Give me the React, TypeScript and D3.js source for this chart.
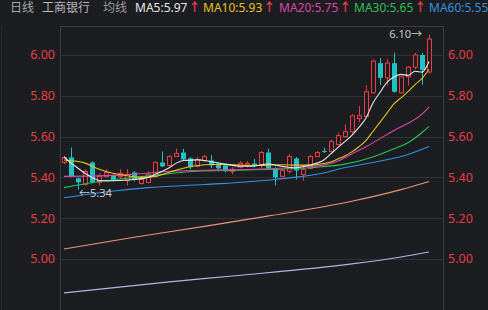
import React from 'react';
import * as d3 from 'd3';

// ---- data ----
const opens = [5.473,5.498,5.395,5.366,5.473,5.376,5.405,5.41,5.405,5.385,5.424,5.37,5.375,5.405,5.473,5.458,5.502,5.522,5.493,5.454,5.483,5.483,5.468,5.459,5.429,5.45,5.46,5.468,5.463,5.522,5.444,5.405,5.43,5.493,5.415,5.444,5.502,5.53,5.527,5.561,5.60,5.624,5.688,5.698,5.815,5.96,5.888,5.96,5.815,5.893,5.94,6.0,5.917];
const closes = [5.498,5.405,5.376,5.429,5.376,5.405,5.424,5.385,5.42,5.415,5.39,5.39,5.415,5.473,5.454,5.502,5.517,5.488,5.45,5.488,5.502,5.459,5.444,5.43,5.44,5.47,5.468,5.459,5.522,5.444,5.40,5.434,5.502,5.434,5.439,5.502,5.522,5.525,5.576,5.605,5.624,5.702,5.702,5.82,5.97,5.888,5.96,5.82,5.893,5.94,6.0,5.927,6.078];
const highs = [5.505,5.546,5.40,5.44,5.48,5.42,5.44,5.415,5.44,5.44,5.43,5.40,5.43,5.48,5.527,5.51,5.54,5.54,5.50,5.50,5.51,5.51,5.47,5.46,5.45,5.48,5.48,5.49,5.53,5.54,5.45,5.44,5.515,5.50,5.46,5.51,5.53,5.545,5.585,5.62,5.66,5.71,5.75,5.85,5.98,5.985,5.98,6.01,5.90,5.945,6.01,6.01,6.10];
const lows = [5.465,5.40,5.34,5.36,5.37,5.36,5.40,5.38,5.39,5.36,5.38,5.365,5.37,5.40,5.45,5.45,5.50,5.485,5.44,5.45,5.478,5.445,5.43,5.425,5.415,5.445,5.45,5.45,5.445,5.44,5.36,5.40,5.42,5.39,5.385,5.44,5.50,5.52,5.52,5.555,5.595,5.615,5.67,5.695,5.81,5.854,5.85,5.815,5.81,5.85,5.93,5.854,5.91];

const yTicks = [5.0, 5.2, 5.4, 5.6, 5.8, 6.0];

// moving-average lines: [candle index, value]
const ma5: [number, number][] = [[0,5.50],[1,5.47],[2,5.445],[3,5.42],[4,5.40],[5,5.385],[6,5.383],[8,5.385],[10,5.39],[12,5.40],[13,5.415],[14,5.43],[15,5.447],[16,5.47],[17,5.483],[19,5.486],[21,5.477],[23,5.465],[25,5.455],[27,5.455],[29,5.466],[31,5.455],[33,5.447],[35,5.46],[37,5.485],[38,5.515],[39,5.546],[40,5.575],[41,5.606],[42,5.645],[43,5.69],[44,5.764],[45,5.816],[46,5.866],[47,5.892],[48,5.905],[49,5.90],[50,5.92],[51,5.916],[52,5.968]];
const ma10: [number, number][] = [[0,5.485],[3,5.47],[5,5.44],[7,5.42],[9,5.408],[11,5.40],[13,5.405],[15,5.425],[17,5.445],[19,5.458],[21,5.463],[23,5.463],[25,5.46],[27,5.458],[29,5.46],[31,5.462],[33,5.46],[35,5.46],[37,5.468],[38,5.475],[39,5.49],[40,5.505],[41,5.525],[42,5.55],[43,5.58],[44,5.625],[45,5.67],[46,5.715],[47,5.76],[48,5.79],[49,5.82],[50,5.855],[51,5.885],[52,5.93]];
const ma20: [number, number][] = [[0,5.405],[10,5.415],[15,5.43],[20,5.435],[27,5.44],[33,5.45],[37,5.46],[39,5.48],[41,5.515],[43,5.55],[45,5.59],[47,5.63],[49,5.665],[51,5.71],[52,5.746]];
const ma30: [number, number][] = [[0,5.35],[5,5.38],[10,5.40],[14,5.415],[19,5.43],[25,5.435],[30,5.44],[36,5.45],[40,5.465],[44,5.50],[47,5.54],[49,5.57],[51,5.62],[52,5.65]];
const ma60: [number, number][] = [[0,5.30],[5,5.325],[12,5.35],[20,5.365],[30,5.39],[38,5.43],[39,5.44],[44,5.473],[49,5.512],[52,5.551]];
const ma120: [number, number][] = [[0,5.049],[10,5.107],[20,5.16],[29,5.21],[41,5.283],[48,5.34],[52,5.38]];
const ma250: [number, number][] = [[0,4.834],[15,4.888],[24,4.917],[41,4.976],[48,5.01],[52,5.034]];

const maNames = ['MA5', 'MA10', 'MA20', 'MA30', 'MA60'];
const maValues = ['5.97', '5.93', '5.75', '5.65', '5.55'];

const BG = '#1c1d21';
const GRID = '#303136';
const BORDER = '#3b3c41';
const RED = '#e83c46';
const UP = '#f03a44';
const DOWN = '#1fc3c3';
const FONT = "'Noto Sans', 'Noto Sans CJK SC', sans-serif";

const maColors = ['#e8e8e8', '#e9c21f', '#de45a6', '#2cc058', '#2f93df'];
const headerX = [135, 203, 279, 354, 429];

export default function App() {
  const W = 488, H = 310;
  const left = 60, right = 443, top = 26;
  const n = opens.length;
  const x = d3.scaleBand<number>().domain(d3.range(n)).range([60.5, 60.5 + 53 * 7.02]).padding(0);
  const cx = (i: number) => (x(i) as number) + x.bandwidth() / 2;
  const y = d3.scaleLinear().domain([5, 6]).range([259, 55]);
  const line = d3.line<[number, number]>().x(d => cx(d[0])).y(d => y(d[1])).curve(d3.curveMonotoneX);

  const maxI = d3.maxIndex(highs);
  const minI = d3.minIndex(lows);

  const lines: { data: [number, number][]; color: string }[] = [
    { data: ma250, color: '#b4b6e6' },
    { data: ma120, color: '#e99578' },
    { data: ma60, color: maColors[4] },
    { data: ma30, color: maColors[3] },
    { data: ma20, color: maColors[2] },
    { data: ma10, color: maColors[1] },
    { data: ma5, color: maColors[0] },
  ];

  return (
    <svg width={W} height={H} style={{ position: 'fixed', left: 0, top: 0, display: 'block' }} fontFamily={FONT}>
      <rect x={0} y={0} width={W} height={H} fill={BG} />
      <line x1={1.5} x2={1.5} y1={top} y2={H} stroke="#26272b" />
      {/* header */}
      <text x={10} y={12} fontSize={12} fill="#a9a9a9">日线</text>
      <text x={42} y={12} fontSize={12} fill="#b8b8b8">工商银行</text>
      <text x={103} y={12} fontSize={12} fill="#9c9c9c">均线</text>
      {maNames.map((nm, k) => (
        <text key={nm} x={headerX[k]} y={12} fontSize={12} fill={maColors[k]}>
          {nm}:{maValues[k]}
          <tspan fill={RED} fontWeight="bold" dx={1}>↑</tspan>
        </text>
      ))}
      {/* grid */}
      {yTicks.map(t => (
        <line key={'g' + t} x1={left} x2={right} y1={Math.round(y(t)) + 0.5} y2={Math.round(y(t)) + 0.5} stroke={GRID} />
      ))}
      {/* panel border */}
      <line x1={left + 0.5} x2={left + 0.5} y1={top} y2={H} stroke={BORDER} />
      <line x1={right + 0.5} x2={right + 0.5} y1={top} y2={H} stroke={BORDER} />
      <line x1={left} x2={right + 1} y1={top + 0.5} y2={top + 0.5} stroke={BORDER} />
      {/* axis labels */}
      {yTicks.map(t => (
        <g key={'l' + t}>
          <text x={55} y={y(t)} dy="0.35em" textAnchor="end" fontSize={12.5} fill={RED}>{t.toFixed(2)}</text>
          <text x={448} y={y(t)} dy="0.35em" textAnchor="start" fontSize={12.5} fill={RED}>{t.toFixed(2)}</text>
        </g>
      ))}
      {/* candles */}
      {opens.map((o, i) => {
        const c = closes[i];
        const up = c >= o;
        const xc = Math.round(cx(i)) + 0.5;
        const yTop = y(Math.max(o, c));
        const yBot = y(Math.min(o, c));
        const bh = Math.max(1, yBot - yTop);
        const col = up ? UP : DOWN;
        return (
          <g key={'c' + i}>
            {up ? (
              <>
                <line x1={xc} x2={xc} y1={y(highs[i])} y2={yTop} stroke={col} />
                <line x1={xc} x2={xc} y1={yTop + bh} y2={y(lows[i])} stroke={col} />
                <rect x={xc - 2} y={yTop} width={4} height={bh} fill={BG} stroke={col} />
              </>
            ) : (
              <>
                <line x1={xc} x2={xc} y1={y(highs[i])} y2={y(lows[i])} stroke={col} />
                <rect x={xc - 2.5} y={yTop} width={5} height={bh} fill={col} />
              </>
            )}
          </g>
        );
      })}
      {/* moving averages */}
      {lines.map((l, k) => (
        <path key={'m' + k} d={line(l.data) || ''} fill="none" stroke={l.color} strokeWidth={1.1} />
      ))}
      {/* high / low markers */}
      <text x={cx(maxI) - 7} y={y(highs[maxI]) + 3} textAnchor="end" fontSize={11} fill="#c9c9c9">
        {highs[maxI].toFixed(2)}→
      </text>
      <text x={cx(minI) + 1} y={y(lows[minI]) + 7} textAnchor="start" fontSize={11} fill="#c9c9c9">
        ←{lows[minI].toFixed(2)}
      </text>
    </svg>
  );
}
